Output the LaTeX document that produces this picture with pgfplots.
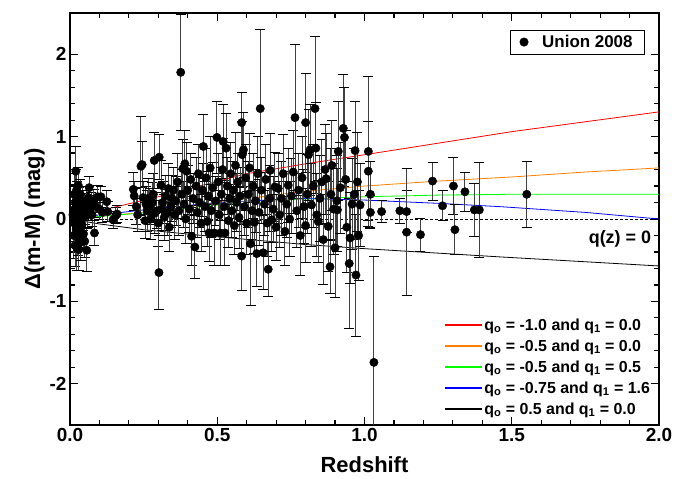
\documentclass[border=0pt]{standalone}
\usepackage{fontspec}
\setmainfont{Liberation Sans}
\usepackage{pgfplots}
\usepackage{pgfplotstable}
\pgfplotsset{compat=1.18}

% Union 2008 SNe: redshift, residual, error
\pgfplotstableread{
x y e
0.010 0.05 0.25
0.012 -0.20 0.28
0.014 0.30 0.25
0.015 -0.05 0.22
0.016 0.12 0.20
0.017 -0.32 0.26
0.018 0.20 0.22
0.019 0.02 0.20
0.020 0.58 0.30
0.021 -0.12 0.22
0.022 0.35 0.25
0.023 -0.35 0.28
0.024 0.08 0.18
0.025 0.25 0.20
0.026 -0.22 0.22
0.027 0.15 0.20
0.028 0.41 0.22
0.029 -0.05 0.18
0.030 -0.37 0.26
0.031 0.00 0.18
0.032 0.18 0.20
0.033 -0.15 0.20
0.035 0.30 0.18
0.036 0.06 0.16
0.037 -0.28 0.22
0.039 0.12 0.16
0.040 -0.08 0.18
0.042 0.22 0.18
0.044 0.02 0.16
0.046 -0.18 0.18
0.048 0.15 0.16
0.050 -0.27 0.20
0.052 0.08 0.15
0.055 0.20 0.15
0.057 -0.38 0.26
0.060 0.05 0.15
0.063 0.26 0.14
0.065 0.38 0.14
0.068 0.12 0.14
0.072 0.18 0.14
0.075 0.05 0.14
0.080 0.22 0.14
0.083 -0.17 0.15
0.088 0.15 0.13
0.094 0.27 0.14
0.100 0.12 0.13
0.105 0.27 0.13
0.110 0.08 0.12
0.125 0.21 0.13
0.128 0.09 0.12
0.146 -0.01 0.10
0.155 0.04 0.10
0.160 0.06 0.10
0.215 0.36 0.20
0.218 0.28 0.18
0.225 0.15 0.22
0.230 0.05 0.20
0.241 0.64 0.60
0.245 0.66 0.28
0.248 0.26 0.20
0.255 -0.02 0.22
0.258 0.18 0.22
0.262 0.10 0.25
0.266 0.25 0.24
0.270 0.15 0.22
0.275 0.00 0.25
0.280 0.20 0.24
0.283 0.30 0.25
0.286 0.71 0.34
0.288 0.07 0.25
0.295 0.10 0.22
0.300 -0.05 0.28
0.303 0.75 0.27
0.302 -0.65 0.45
0.309 0.41 0.30
0.312 0.12 0.26
0.315 0.20 0.25
0.320 0.02 0.28
0.325 0.28 0.25
0.330 0.08 0.28
0.334 0.37 0.30
0.337 -0.10 0.30
0.342 0.15 0.25
0.346 0.25 0.28
0.351 0.35 0.28
0.355 0.05 0.30
0.360 0.22 0.30
0.365 0.45 0.35
0.370 0.10 0.30
0.376 1.78 0.70
0.380 0.30 0.30
0.383 0.61 0.35
0.387 0.18 0.28
0.390 0.67 0.40
0.393 0.00 0.30
0.396 0.58 0.35
0.400 0.35 0.30
0.405 0.12 0.28
0.410 0.48 0.32
0.413 -0.21 0.35
0.418 0.25 0.30
0.424 -0.34 0.38
0.428 0.40 0.35
0.432 0.08 0.30
0.436 0.55 0.35
0.440 0.20 0.30
0.445 -0.05 0.35
0.450 0.35 0.32
0.453 0.88 0.39
0.458 0.15 0.30
0.462 0.50 0.35
0.466 -0.03 0.30
0.470 0.28 0.30
0.472 -0.17 0.35
0.476 0.62 0.38
0.480 0.10 0.32
0.485 0.38 0.30
0.490 -0.17 0.40
0.495 0.22 0.30
0.499 0.99 0.44
0.503 0.45 0.35
0.507 0.05 0.30
0.510 -0.17 0.40
0.514 0.30 0.32
0.518 0.60 0.38
0.520 0.94 0.45
0.524 0.15 0.32
0.526 -0.17 0.40
0.530 0.86 0.42
0.534 0.40 0.35
0.538 -0.02 0.32
0.542 0.25 0.30
0.546 0.55 0.38
0.550 0.10 0.32
0.554 0.35 0.35
0.558 -0.08 0.35
0.562 0.65 0.40
0.566 0.20 0.35
0.570 0.45 0.35
0.574 0.02 0.38
0.578 0.28 0.35
0.583 1.17 0.37
0.585 0.78 0.40
0.589 0.84 0.45
0.583 -0.45 0.42
0.592 0.15 0.35
0.596 0.50 0.40
0.600 -0.05 0.38
0.605 0.30 0.40
0.610 0.62 0.42
0.613 -0.30 0.75
0.618 0.10 0.35
0.622 0.40 0.40
0.626 -0.04 0.38
0.630 0.22 0.38
0.634 -0.42 0.40
0.638 0.55 0.45
0.642 0.08 0.40
0.646 1.34 0.96
0.650 0.35 0.40
0.656 -0.41 0.45
0.660 0.18 0.38
0.665 0.48 0.42
0.670 -0.05 0.40
0.673 -0.61 0.33
0.678 0.25 0.40
0.680 0.59 0.45
0.685 -0.01 0.38
0.690 0.12 0.40
0.696 0.39 0.42
0.700 -0.10 0.40
0.707 0.37 0.42
0.712 0.05 0.40
0.718 0.25 0.45
0.724 0.55 0.48
0.730 -0.15 0.42
0.736 0.18 0.40
0.741 0.41 0.45
0.746 0.00 0.45
0.752 0.28 0.45
0.758 0.57 0.50
0.764 1.23 0.89
0.770 0.10 0.45
0.776 0.35 0.45
0.782 -0.20 0.48
0.788 0.50 0.50
0.794 0.15 0.45
0.800 1.17 0.60
0.800 -0.08 0.45
0.806 0.30 0.48
0.810 0.78 0.55
0.815 0.84 0.55
0.820 0.17 0.50
0.826 0.40 0.50
0.832 1.34 0.88
0.835 0.86 0.55
0.838 0.05 0.50
0.843 -0.03 0.50
0.848 0.25 0.52
0.855 0.45 0.52
0.860 -0.25 0.55
0.866 0.60 0.55
0.870 0.49 0.55
0.877 -0.09 0.55
0.883 -0.58 0.32
0.886 0.30 0.55
0.889 0.65 0.55
0.895 0.12 0.55
0.900 -0.35 0.60
0.906 0.22 0.55
0.908 0.11 0.50
0.911 0.82 0.60
0.918 0.38 0.55
0.928 1.10 0.65
0.932 0.99 0.60
0.936 0.48 0.60
0.940 -0.10 0.55
0.948 -0.54 0.79
0.951 -0.23 0.55
0.958 0.18 0.55
0.965 0.30 0.55
0.968 0.83 0.60
0.971 -0.68 0.74
0.976 0.45 0.60
0.980 -0.20 0.55
0.985 0.17 0.50
1.013 0.82 0.91
1.013 0.58 0.60
1.020 0.30 0.40
1.020 0.08 0.20
1.032 -1.74 1.28
1.058 0.09 0.13
1.120 0.10 0.15
1.143 0.09 0.25
1.143 -0.16 0.77
1.190 -0.19 0.20
1.231 0.46 0.23
1.265 0.16 0.18
1.302 0.40 0.35
1.307 -0.13 0.30
1.341 0.33 0.24
1.373 0.11 0.32
1.390 0.11 0.58
1.551 0.30 0.40
}\union

\pgfplotsset{
  myaxis/.style={
    at={(70bp,54bp)}, anchor=south west,
    width=589bp, height=412bp, scale only axis,
    xmin=0, xmax=2, ymin=-2.5, ymax=2.5,
  }
}
\definecolor{qorange}{RGB}{255,128,0}
\definecolor{qgreen}{RGB}{0,255,0}

\begin{document}
\begin{tikzpicture}[font=\bfseries]
\useasboundingbox (0,0) rectangle (694bp,479bp);
\begin{axis}[myaxis,
    xtick={0,0.5,1,1.5,2}, xticklabels={0.0,0.5,1.0,1.5,2.0},
    ytick={-2,-1,0,1,2}, yticklabels={-2,-1,0,1,2},
    minor x tick num=4, minor y tick num=4,
    tick align=inside,
    major tick length=8bp, minor tick length=5bp,
    every tick/.style={black, line width=1.2pt},
    axis line style={line width=1.8pt},
    tick label style={font=\bfseries\fontsize{19}{19}\selectfont},
    xlabel={Redshift}, ylabel={Δ(m-M) (mag)},
    label style={font=\bfseries\fontsize{22}{22}\selectfont},
    xlabel style={yshift=-8bp},
    ylabel style={yshift=-2bp},
    legend cell align=left,
    legend style={draw=none, fill=none, at={(0.99,0.015)}, anchor=south east,
      font=\bfseries\fontsize{16}{17}\selectfont, row sep=4bp,
      inner sep=1pt},
    legend image code/.code={\draw[#1, line width=1.3pt] (0bp,0bp) -- (37bp,0bp);},
  ]
  \addplot[red, line width=0.8pt] coordinates {
    (0,0) (0.1,0.10) (0.3,0.27) (0.6,0.55) (0.8,0.67) (1.0,0.78) (1.25,0.92) (1.5,1.06) (1.75,1.18) (2.0,1.30)};
  \addplot[qorange, line width=0.8pt] coordinates {
    (0,0) (0.1,0.03) (0.3,0.10) (0.5,0.20) (0.78,0.33) (1.0,0.40) (1.25,0.46) (1.5,0.51) (1.75,0.57) (2.0,0.62)};
  \addplot[qgreen, line width=0.8pt] coordinates {
    (0,0) (0.1,0.03) (0.3,0.09) (0.5,0.17) (0.78,0.24) (1.0,0.27) (1.25,0.29) (1.5,0.30) (2.0,0.30)};
  \addplot[blue, line width=0.8pt] coordinates {
    (0,0) (0.1,0.05) (0.3,0.13) (0.5,0.20) (0.78,0.25) (1.0,0.23) (1.25,0.19) (1.46,0.15) (1.75,0.08) (2.0,0.0)};
  \addplot[black, line width=0.8pt] coordinates {
    (0,0) (0.1,-0.06) (0.25,-0.13) (0.45,-0.20) (0.8,-0.31) (1.0,-0.36) (1.46,-0.46) (2.0,-0.57)};
  \addplot[black, dashed, line width=0.6pt, dash pattern=on 3bp off 2bp, forget plot] coordinates {(0,0) (2,0)};
  \legend{q\textsubscript{o} = -1.0 and q\textsubscript{1} = 0.0,
          q\textsubscript{o} = -0.5 and q\textsubscript{1} = 0.0,
          q\textsubscript{o} = -0.5 and q\textsubscript{1} = 0.5,
          q\textsubscript{o} = -0.75 and q\textsubscript{1} = 1.6,
          q\textsubscript{o} = 0.5 and q\textsubscript{1} = 0.0}
  \node[anchor=east, font=\bfseries\fontsize{18}{18}\selectfont] at (axis cs:1.985,-0.24) {q(z) = 0};
\end{axis}
\begin{axis}[myaxis, hide axis,
    legend style={draw=black, line width=0.6pt, at={(0.976,0.959)}, anchor=north east,
      font=\bfseries\fontsize{17}{17}\selectfont, inner xsep=10bp, inner ysep=3bp},
  ]
  \addplot[only marks, mark=*, mark size=4.2bp, black,
    error bars/.cd, y dir=both, y explicit,
    error bar style={black!75, line width=1pt},
    error mark options={black, mark size=5bp, line width=1pt, rotate=90}]
    table[x=x, y=y, y error=e] {\union};
  \legend{\hspace{12bp}Union 2008\hspace{8bp}}
\end{axis}
\end{tikzpicture}
\end{document}
